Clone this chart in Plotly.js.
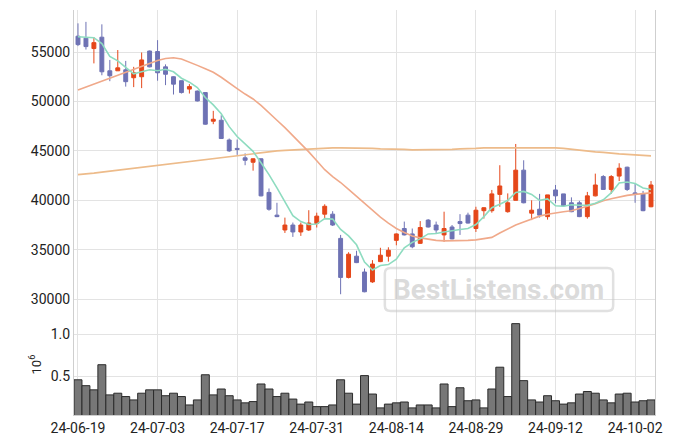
<!DOCTYPE html>
<html><head><meta charset="utf-8">
<script src="https://cdn.plot.ly/plotly-3.0.1.min.js"></script>
<style>html,body{margin:0;padding:0;background:#fff}#chart{width:675px;height:444px}</style>
</head><body><div id="chart"></div><script>
const dates = ['24-06-19','24-06-20','24-06-21','24-06-24','24-06-25','24-06-26','24-06-27','24-06-28',
'24-07-01','24-07-02','24-07-03','24-07-04','24-07-05','24-07-08','24-07-09','24-07-10','24-07-11','24-07-12',
'24-07-15','24-07-16','24-07-17','24-07-18','24-07-19','24-07-22','24-07-23','24-07-24','24-07-25','24-07-26',
'24-07-29','24-07-30','24-07-31','24-08-01','24-08-02','24-08-05','24-08-06','24-08-07','24-08-08','24-08-09',
'24-08-12','24-08-13','24-08-14','24-08-16','24-08-19','24-08-20','24-08-21','24-08-22','24-08-23',
'24-08-26','24-08-27','24-08-28','24-08-29','24-08-30','24-09-02','24-09-03','24-09-04','24-09-05','24-09-06',
'24-09-09','24-09-10','24-09-11','24-09-12','24-09-13','24-09-19','24-09-20','24-09-23','24-09-24','24-09-25',
'24-09-26','24-09-27','24-09-30','24-10-02','24-10-04','24-10-07'];
const openP  = [56600,56400,55350,56500,53100,53100,53200,52400,52500,55100,55050,53500,52500,52100,51250,51050,50900,48000,48100,46100,
45250,44300,43850,44200,40800,38500,37000,37500,36800,37000,37650,38600,38600,36150,32200,34350,32750,31750,33800,34350,
35950,37150,36600,35650,38000,37500,36500,37300,37850,38500,37150,38950,38950,40600,38850,40000,43050,38700,39100,38350,
41050,40650,39750,39750,38350,40450,42400,41100,42450,43350,40750,40650,39350];
const highP  = [57900,58050,56500,57800,54200,55200,54100,53500,54950,55150,56200,53750,52550,52100,51750,51100,50900,49050,48600,46250,
46150,44750,44250,44250,41200,39750,38250,37750,37750,39000,38750,39600,38900,36500,34750,34900,33100,33950,35200,35250,
36650,37850,37150,37900,38100,37850,38850,37500,38600,38750,39350,39300,41050,43550,40700,45700,44050,40000,40650,40550,
41550,40650,40300,39950,40850,42700,42550,42550,43750,43400,41700,40950,41950];
const lowP   = [55600,55250,53850,52650,52050,53100,51500,51450,51350,53450,52100,51650,50700,50800,50800,50000,47650,47700,46250,44900,
44600,43550,43000,40400,38950,38300,36700,36300,36400,36900,37250,38150,37400,30500,32100,33650,30700,31650,33750,33800,
35450,36450,35150,35600,37250,36700,35800,36050,36500,37650,36800,38150,38750,39350,38750,40000,39700,38000,38250,38050,
39700,39350,38800,38300,38150,40400,41100,40650,41950,40950,39750,38900,39300];
const closeP = [55750,55550,55950,53000,52600,53400,52000,52900,54200,53500,52900,52750,51750,50900,51500,50050,47700,48200,46250,45000,
45150,44050,44200,40450,39100,38350,37500,36800,37500,37700,38400,39400,37500,32200,34550,33700,30750,33550,34450,34950,
36600,36500,35300,37250,37300,37000,37150,36100,37650,37700,39000,39250,40650,41450,39750,43050,39750,39000,38500,40550,
40450,39450,38850,38350,40450,41550,41100,42400,43250,41100,40600,38950,41550];
const volumeM = [0.46,0.39,0.34,0.64,0.28,0.30,0.26,0.22,0.30,0.34,
0.34,0.27,0.30,0.26,0.16,0.22,0.52,0.28,0.35,0.27,
0.22,0.185,0.20,0.41,0.35,0.26,0.30,0.23,0.17,0.195,
0.14,0.14,0.16,0.46,0.30,0.17,0.51,0.29,0.125,0.17,
0.185,0.195,0.125,0.16,0.16,0.125,0.41,0.14,0.365,0.21,
0.22,0.125,0.35,0.61,0.26,1.13,0.45,0.22,0.195,0.27,
0.21,0.17,0.185,0.29,0.32,0.30,0.22,0.185,0.29,0.30,
0.195,0.21,0.22];
const ma5 = [56550,56500,56450,55850,54550,54100,53400,52800,53000,53200,53100,53250,53000,52350,51950,51400,50400,49650,48750,47450,
46450,45750,44950,43800,42600,41250,39900,38450,37850,37550,37600,38150,38100,37050,36400,35500,33750,32950,33400,33500,
34050,35200,35750,36100,36600,36650,36800,36950,37050,37150,37550,38350,39250,39600,40000,40800,40900,40600,40000,40150,
39450,39400,39550,39500,39500,39700,40050,40750,41750,41850,41700,41250,41100];
const ma20 = [51150,51450,51750,52050,52350,52650,52950,53250,53550,53850,54150,54350,54420,54300,54000,53650,53300,52950,52450,51850,
51300,50750,50250,49600,48900,48100,47350,46550,45750,44900,44000,43100,42400,41800,41100,40400,39650,38950,38300,37700,
37150,36750,36400,36200,36050,35950,35900,35900,35900,35950,36000,36100,36250,36700,37100,37500,37800,38100,38400,38600,
38750,38850,38950,39150,39400,39650,39950,40150,40350,40500,40600,40700,40750];
const ma60 = [42600,42650,42750,42850,42950,43050,43150,43250,43350,43450,43550,43650,43750,43850,43950,44050,44150,44250,44350,44450,
44550,44650,44750,44850,44950,45000,45050,45100,45150,45200,45250,45300,45300,45300,45300,45300,45250,45250,45200,45200,
45150,45150,45100,45100,45100,45100,45150,45150,45200,45200,45250,45300,45300,45350,45350,45350,45350,45350,45350,45350,
45300,45250,45150,45100,45000,44900,44850,44750,44700,44650,44600,44550,44500];
const xTicks = ['24-06-19','24-07-03','24-07-17','24-07-31','24-08-14','24-08-29','24-09-12','24-10-02'];
const priceTicks = [30000,35000,40000,45000,50000,55000];
const volTicks = [0.5,1.0];
const volTickText = ['0.5','1.0'];
const watermark = 'BestListens.com';

const UP = '#E5471A', DOWN = '#6E72B4';
const traces = [
  {type:'scatter', mode:'lines', x:dates, y:ma60, xaxis:'x', yaxis:'y', line:{color:'#EDBB8A', width:1.6}, hoverinfo:'skip'},
  {type:'scatter', mode:'lines', x:dates, y:ma20, xaxis:'x', yaxis:'y', line:{color:'#F0A98A', width:1.6}, hoverinfo:'skip'},
  {type:'scatter', mode:'lines', x:dates, y:ma5, xaxis:'x', yaxis:'y', line:{color:'#8EDCC0', width:1.6}, hoverinfo:'skip'},
  {type:'candlestick', x:dates, open:openP, high:highP, low:lowP, close:closeP, xaxis:'x', yaxis:'y',
   increasing:{line:{color:UP, width:1}, fillcolor:UP},
   decreasing:{line:{color:DOWN, width:1}, fillcolor:DOWN}, whiskerwidth:0, hoverinfo:'skip'},
  {type:'bar', x:dates, y:volumeM, xaxis:'x', yaxis:'y2', marker:{color:'#777777', line:{color:'#2b2b2b', width:1}}, hoverinfo:'skip'}
];
const grid = '#e3e3e3';
const layout = {
  width:675, height:444,
  margin:{l:74, r:20, t:10, b:29},
  paper_bgcolor:'#fff', plot_bgcolor:'#fff',
  showlegend:false,
  bargap:0,
  font:{family:'Roboto, sans-serif', size:14, color:'#222'},
  xaxis:{type:'category', anchor:'y2', range:[-0.5, dates.length-0.5], tickmode:'array', tickvals:xTicks, ticktext:xTicks,
    showgrid:true, gridcolor:grid, gridwidth:1, showline:true, linecolor:'#cfcfcf', mirror:false, ticks:'', ticklen:0,
    rangeslider:{visible:false}, tickfont:{size:14, color:'#222'}, zeroline:false},
  yaxis:{domain:[0.249,1], range:[28486,59250], tickmode:'array', tickvals:priceTicks, ticktext:priceTicks.map(String),
    showgrid:true, gridcolor:grid, showline:true, linecolor:'#cfcfcf', mirror:true, ticks:'', zeroline:false, tickfont:{size:14, color:'#222'}},
  yaxis2:{domain:[0,0.249], range:[0.04,1.243], tickmode:'array', tickvals:volTicks, ticktext:volTickText,
    showgrid:true, gridcolor:grid, showline:true, linecolor:'#cfcfcf', mirror:true, ticks:'', zeroline:false, tickfont:{size:14, color:'#222'},
    title:{text:'10<sup>6</sup>', font:{size:13, color:'#222'}, standoff:6}},
  shapes:[
    {type:'path', xref:'paper', yref:'paper', path:'M0.545,0.257 L0.918,0.257 Q0.928,0.257 0.928,0.27 L0.928,0.35 Q0.928,0.363 0.918,0.363 L0.545,0.363 Q0.535,0.363 0.535,0.35 L0.535,0.27 Q0.535,0.257 0.545,0.257 Z',
     line:{color:'rgba(200,200,200,0.55)', width:2.5}, fillcolor:'rgba(0,0,0,0)'}
  ],
  annotations:[
    {text:'<b>'+watermark+'</b>', xref:'paper', yref:'paper', x:0.731, y:0.309, showarrow:false,
     font:{family:'Roboto, sans-serif', size:28, color:'rgba(195,195,195,0.6)'}, xanchor:'center', yanchor:'middle'}
  ]
};
Plotly.newPlot('chart', traces, layout, {displayModeBar:false, staticPlot:true});
</script></body></html>
